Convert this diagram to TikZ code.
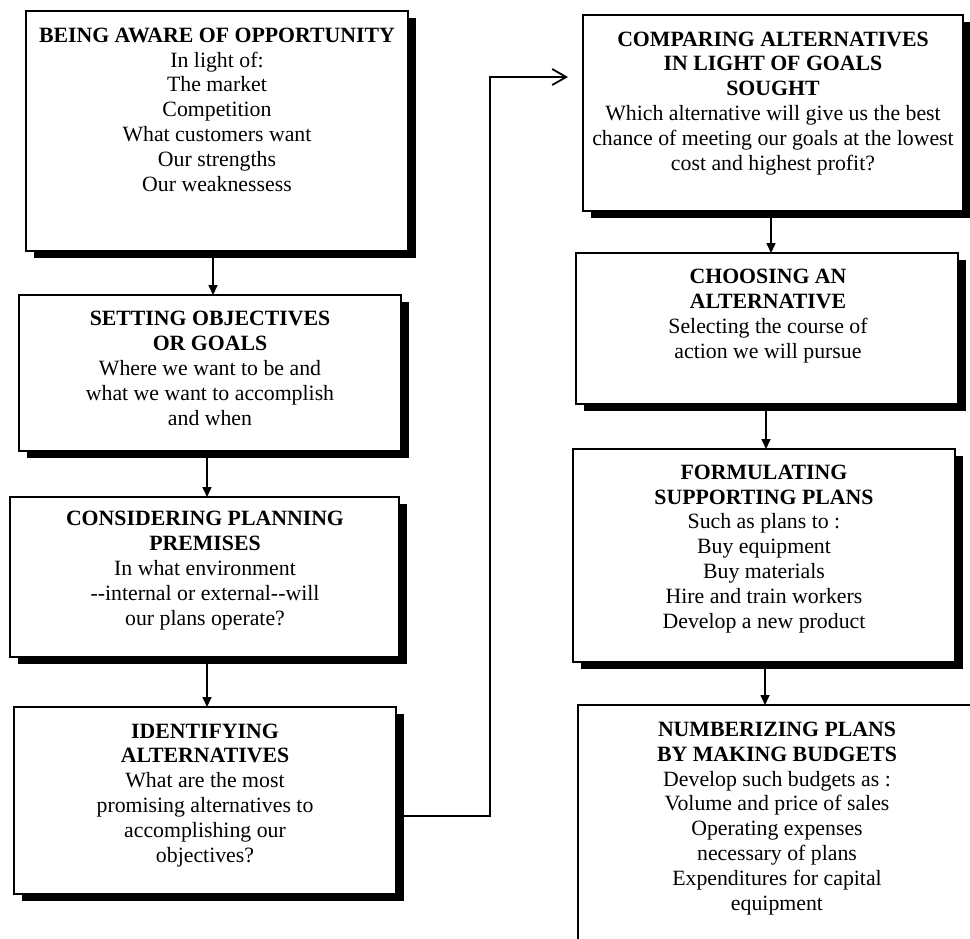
\documentclass[tikz,border=0pt]{standalone}
\usepackage{fontspec}
\setmainfont{Liberation Serif}
\usetikzlibrary{arrows.meta,shadows}
\newcommand{\dd}{-\kern0pt-}
\begin{document}
\begin{tikzpicture}[x=1pt,y=-1pt,
  box/.style={draw=black, line width=1.8pt, fill=white, inner sep=0pt, outer sep=0pt,
    drop shadow={shadow xshift=8pt, shadow yshift=-7pt, fill=black, opacity=1}},
  openbox/.style={draw=black, line width=1.8pt, fill=white, inner sep=0pt, outer sep=0pt},
  txt/.style={align=center, inner sep=0pt, anchor=base,
    font=\fontsize{21.8}{24.8}\selectfont},
  flow/.style={line width=1.6pt, -{Triangle[length=10pt,width=9pt]}},
  jump/.style={line width=1.8pt, -{Straight Barb[length=14pt,width=16pt,line width=1.8pt]}}]
\useasboundingbox (0,0) rectangle (970,938);
\clip (0,0) rectangle (970,938);

% left column
\node[box, minimum width=382pt, minimum height=240pt] (b1) at (217,131) {};
\node[box, minimum width=382pt, minimum height=156pt] (b2) at (210,373) {};
\node[box, minimum width=389pt, minimum height=160pt] (b3) at (204.5,577) {};
\node[box, minimum width=382pt, minimum height=187pt] (b4) at (205,800.5) {};

% right column
\node[box, minimum width=380pt, minimum height=196pt] (b5) at (773,113) {};
\node[box, minimum width=382pt, minimum height=151pt] (b6) at (767,328.5) {};
\node[box, minimum width=382pt, minimum height=213pt] (b7) at (764,555.5) {};
\node[openbox, minimum width=412pt, minimum height=250pt] (b8) at (784,830) {};

% box texts (anchored at the baseline of their last line)
\node[txt] (t1) at (217,191) {\textbf{BEING AWARE OF OPPORTUNITY}\\In light of:\\The market\\Competition\\What customers want\\Our strengths\\Our weaknessess};
\node[txt] (t2) at (210,425) {\textbf{SETTING OBJECTIVES}\\\textbf{OR GOALS}\\Where we want to be and\\what we want to accomplish\\and when};
\node[txt] (t3) at (205,625) {\textbf{CONSIDERING PLANNING}\\\textbf{PREMISES}\\In what environment\\\dd internal or external\dd will\\our plans operate?};
\node[txt] (t4) at (205,862) {\textbf{IDENTIFYING}\\\textbf{ALTERNATIVES}\\What are the most\\promising alternatives to\\accomplishing our\\objectives?};
\node[txt] (t5) at (773,170) {\textbf{COMPARING ALTERNATIVES}\\\textbf{IN LIGHT OF GOALS}\\\textbf{SOUGHT}\\Which alternative will give us the best\\chance of meeting our goals at the lowest\\cost and highest profit?};
\node[txt] (t6) at (768,358) {\textbf{CHOOSING AN}\\\textbf{ALTERNATIVE}\\Selecting the course of\\action we will pursue};
\node[txt] (t7) at (764,628) {\textbf{FORMULATING}\\\textbf{SUPPORTING PLANS}\\Such as plans to :\\Buy equipment\\Buy materials\\Hire and train workers\\Develop a new product};
\node[txt] (t8) at (777,910) {\textbf{NUMBERIZING PLANS}\\\textbf{BY MAKING BUDGETS}\\Develop such budgets as :\\Volume and price of sales\\Operating expenses\\necessary of plans\\Expenditures for capital\\equipment};

% connectors
\draw[flow] (b1.south -| 213,0) -- (b2.north -| 213,0);
\draw[flow] (b2.south -| 207,0) -- (b3.north -| 207,0);
\draw[flow] (b3.south -| 207,0) -- (b4.north -| 207,0);
\draw[flow] (b5.south -| 771,0) -- (b6.north -| 771,0);
\draw[flow] (b6.south -| 766,0) -- (b7.north -| 766,0);
\draw[flow] (b7.south -| 765,0) -- (b8.north -| 765,0);

\coordinate (turn) at (490,77);
\draw[jump, shorten >=15pt] ([yshift=-15.5pt]b4.east) -| (turn) -- (b5.west |- turn);
\end{tikzpicture}
\end{document}
